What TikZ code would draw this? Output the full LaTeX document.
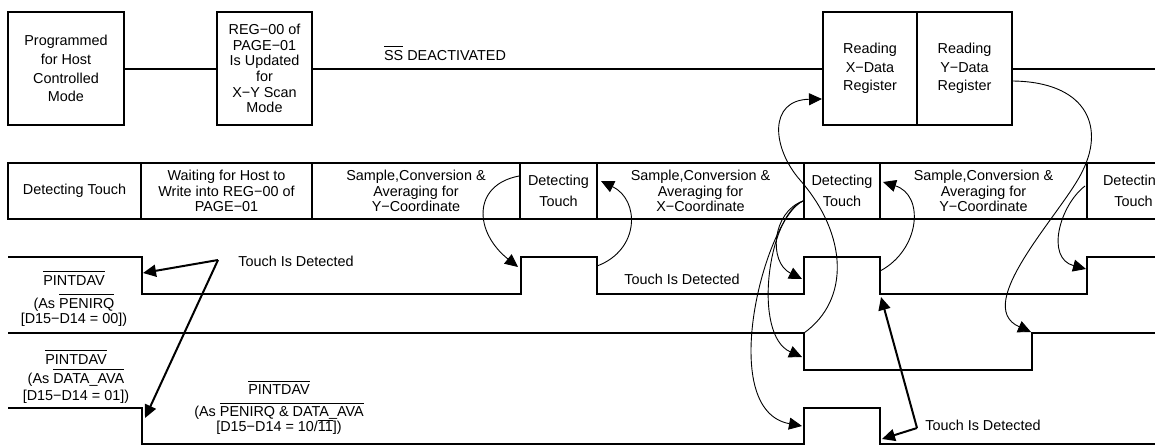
\documentclass[tikz,border=0pt]{standalone}
\usepackage{fontspec}
\setmainfont{Liberation Sans}
\usepackage{tikz}
\usetikzlibrary{arrows.meta,positioning}
\setlength{\lineskiplimit}{-20pt}
\newcommand{\bartext}[1]{$\overline{\mbox{\rule{0pt}{12.5pt}#1}}$}
\tikzstyle{block} = [rectangle, draw, line width=2pt, outer sep=0pt, minimum height=113pt, align=center, font=\fontsize{14.4}{18.7}\selectfont]
\tikzstyle{cell} = [rectangle, draw, line width=2pt, outer sep=0pt, minimum height=56pt, align=center, font=\fontsize{14.4}{15.5}\selectfont]
\tikzstyle{txt} = [align=center, inner sep=0pt, font=\fontsize{14.4}{15}\selectfont]
\tikzstyle{wire} = [line width=2pt]
\tikzstyle{sig} = [line width=2pt, line join=miter]
\tikzstyle{arrow} = [line width=0.9pt, ->, >={Triangle[length=13pt,width=12pt]}]
\tikzstyle{tdarrow} = [line width=2pt, ->, >={Triangle[length=13pt,width=12pt]}]

\begin{document}
\begin{tikzpicture}[x=1pt, y=-1pt]
    \useasboundingbox (0,0) rectangle (1155,445);
    \node[block, minimum width=116pt] (host) at (66,68.5) {Programmed\\for Host\\Controlled\\Mode};
    \node[block, minimum width=95pt, font=\fontsize{14.4}{15.6}\selectfont] (reg) at (264.5,68.5) {REG−00 of\\PAGE−01\\Is Updated\\for\\X−Y Scan\\Mode};
    \node[block, minimum width=94pt] (readx) at (870,68.5) {Reading\\X−Data\\Register};
    \node[block, minimum width=95pt, right=0pt of readx] (ready) {Reading\\Y−Data\\Register};
    \coordinate (topend) at (1160,68.5);
    \draw[wire] (host) -- (reg);
    \draw[wire] (reg) -- (readx);
    \draw[wire] (ready) -- (topend);
    \node[txt] (ss) at (445,53) {\bartext{SS} DEACTIVATED};

    \node[cell, minimum width=133pt] (c1) at (74.5,191) {Detecting Touch};
    \node[cell, minimum width=171pt, right=0pt of c1] (c2) {Waiting for Host to\\Write into REG−00 of\\PAGE−01};
    \node[cell, minimum width=208pt, right=0pt of c2] (c3) {Sample,Conversion \&\\Averaging for\\Y−Coordinate};
    \node[cell, minimum width=77pt, right=0pt of c3] (c4) {Detecting\\[5pt]Touch};
    \node[cell, minimum width=207pt, right=0pt of c4] (c5) {Sample,Conversion \&\\Averaging for\\X−Coordinate};
    \node[cell, minimum width=76pt, right=0pt of c5] (c6) {Detecting\\[5pt]Touch};
    \node[cell, minimum width=207pt, right=0pt of c6] (c7) {Sample,Conversion \&\\Averaging for\\Y−Coordinate};
    \node[cell, minimum width=93pt, right=0pt of c7] (c8) {Detecting\\[5pt]Touch};

    \draw[sig] (8,257) -- (142,257) -- (142,294) -- (521,294) -- (521,257) -- (597,257) -- (597,294) -- (804,294) -- (804,257) -- (880,257) -- (880,294) -- (1087,294) -- (1087,257) -- (1160,257);
    \draw[sig] (8,333) -- (804,333) -- (804,370) -- (1032,370) -- (1032,333) -- (1160,333);
    \draw[sig] (8,408) -- (142,408) -- (142,444) -- (804,444) -- (804,408) -- (880,408) -- (880,444) -- (1160,444);

    \node[txt] (penlab) at (74,298.5) {\bartext{PINTDAV}\\[8pt](As \bartext{PENIRQ}\\[0pt][D15−D14 = 00])};
    \node[txt] (avalab) at (76,376.5) {\bartext{PINTDAV}\\[4pt](As \bartext{DATA\_AVA}\\[2pt][D15−D14 = 01])};
    \node[txt] (bothlab) at (279,407.5) {\bartext{PINTDAV}\\[7pt](As \bartext{PENIRQ \& DATA\_AVA}\\[0pt][D15−D14 = 10/$\overline{\mbox{11}}$])};
    \node[txt] (td1) at (296,261) {Touch Is Detected};
    \node[txt] (td2) at (682,279) {Touch Is Detected};
    \node[txt] (td3) at (983,425) {Touch Is Detected};

    \coordinate (yconv1) at (519,176);
    \coordinate (penup1) at (518,267);
    \coordinate (pendn1) at (597,266);
    \coordinate (det1) at (601,181);
    \coordinate (xconv) at (803,201);
    \coordinate (penup2) at (802,279);
    \coordinate (avadn) at (802,357);
    \coordinate (bothup) at (802,426);
    \coordinate (avadn0) at (804,333);
    \coordinate (regx) at (822,99);
    \coordinate (pendn2) at (880,271);
    \coordinate (det2) at (883,182);
    \coordinate (yread) at (1013,81);
    \coordinate (avaup) at (1031,332);
    \coordinate (yconv2) at (1085,186);
    \coordinate (penup3) at (1086,269);
    \coordinate (td1fork) at (218,260);
    \coordinate (pendn0) at (143,273);
    \coordinate (bothdn0) at (145,418);
    \coordinate (td3fork) at (917,428);
    \coordinate (pendn2b) at (881,297);
    \coordinate (bothdn2) at (882,439);

    \draw[arrow] (yconv1) .. controls (472,185) and (474,232) .. (penup1);
    \draw[arrow] (pendn1) .. controls (640,250) and (640,200) .. (det1);
    \draw[arrow] (xconv) .. controls (772,212) and (768,262) .. (penup2);
    \draw[arrow] (xconv) .. controls (768,215) and (752,335) .. (avadn);
    \draw[arrow] (xconv) .. controls (765,218) and (715,410) .. (bothup);
    \draw[arrow] (avadn0) .. controls (850,300) and (848,235) .. (800,180) .. controls (772,148) and (768,100) .. (regx);
    \draw[arrow] (pendn2) .. controls (920,250) and (925,195) .. (det2);
    \draw[arrow] (yread) .. controls (1085,82) and (1105,125) .. (1083,170) .. controls (1065,210) and (970,305) .. (avaup);
    \draw[arrow] (yconv2) .. controls (1060,205) and (1045,258) .. (penup3);
    \draw[tdarrow] (td1fork) -- (pendn0);
    \draw[tdarrow] (td1fork) -- (bothdn0);
    \draw[tdarrow] (td3fork) -- (pendn2b);
    \draw[tdarrow] (td3fork) -- (bothdn2);
\end{tikzpicture}
\end{document}
